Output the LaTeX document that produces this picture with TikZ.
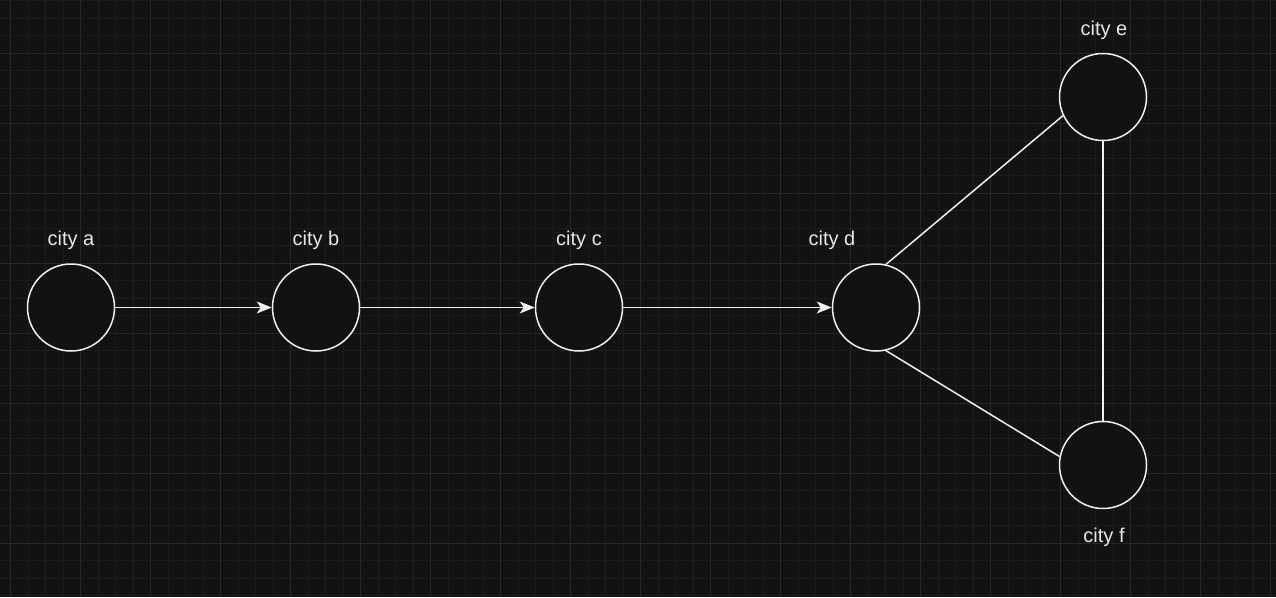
\documentclass[tikz,border=0pt]{standalone}
\usepackage{fontspec}
\setmainfont{Liberation Sans}
\usetikzlibrary{arrows.meta, positioning}
\definecolor{BoardBg}{HTML}{121212}
\definecolor{GridMinor}{HTML}{1C1C1C}
\definecolor{GridMajor}{HTML}{262626}
\definecolor{EdgeWhite}{HTML}{F0F0F0}
\definecolor{LabelGray}{HTML}{E6E6E6}

\tikzset{
  city/.style={circle, draw=EdgeWhite, line width=1.5pt, fill=BoardBg,
    minimum size=87pt, inner sep=0pt},
  citylabel/.style={text=LabelGray, anchor=base,
    font=\fontsize{20}{24}\selectfont},
  road/.style={draw=EdgeWhite, line width=1.5pt},
  oneway/.style={road, -{Stealth[length=15pt, width=12pt, inset=4pt]}}
}

\begin{document}
\begin{tikzpicture}[x=1pt, y=-1pt]
  % Background
  \fill[BoardBg] (0,0) rectangle (1276,597);
  \useasboundingbox (0,0) rectangle (1276,597);
  % Grid
  \foreach \gx in {0,...,72}{
    \draw[GridMinor, line width=1pt] (10.7+17.5*\gx-17.5,0) -- (10.7+17.5*\gx-17.5,597);
  }
  \foreach \gy in {0,...,34}{
    \draw[GridMinor, line width=1pt] (0,0.8+17.5*\gy) -- (1276,0.8+17.5*\gy);
  }
  \foreach \gx in {0,...,18}{
    \draw[GridMajor, line width=1pt] (10.7+70*\gx,0) -- (10.7+70*\gx,597);
  }
  \foreach \gy in {-1,...,7}{
    \draw[GridMajor, line width=1pt] (0,53.3+70*\gy) -- (1276,53.3+70*\gy);
  }
  % Cities
  \node[city] (a) at (71,307.5) {};
  \node[city] (b) at (316,307.5) {};
  \node[city] (c) at (579,307.5) {};
  \node[city] (d) at (876,307.5) {};
  \node[city] (e) at (1103,97) {};
  \node[city] (f) at (1103,465) {};
  % Labels
  \node[citylabel] (la) at (71,245) {city a};
  \node[citylabel] (lb) at (316,245) {city b};
  \node[citylabel] (lc) at (579,245) {city c};
  \node[citylabel] (ld) at (832,245) {city d};
  \node[citylabel] (le) at (1104,35) {city e};
  \node[citylabel] (lf) at (1104,542) {city f};
  % Roads
  \draw[oneway] (a) -- (b);
  \draw[oneway] (b) -- (c);
  \draw[oneway] (c) -- (d);
  \draw[road] (d.77) -- (e.205);
  \draw[road] (d.283) -- (f.169);
  \draw[road] (e) -- (f);
\end{tikzpicture}
\end{document}
